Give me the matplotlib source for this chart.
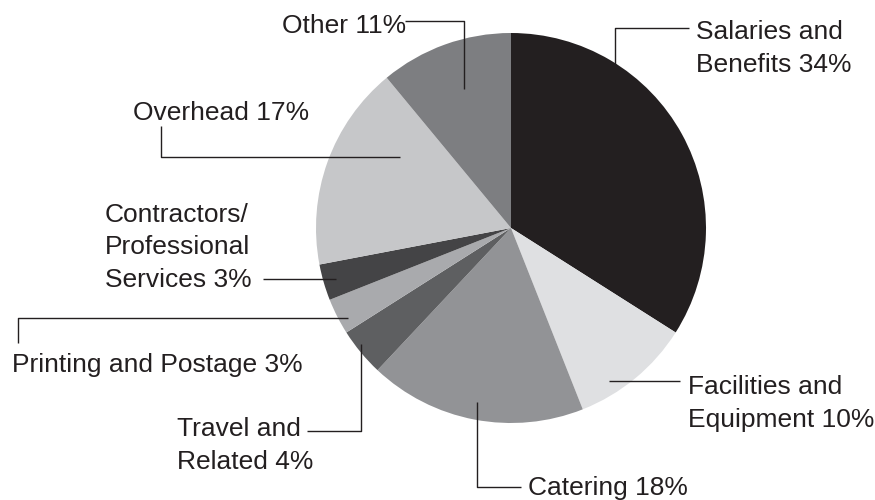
import matplotlib.pyplot as plt

# budget shares, clockwise from 12 o'clock
labels = ['Salaries and\nBenefits 34%', 'Facilities and\nEquipment 10%', 'Catering 18%',
          'Travel and\nRelated 4%', 'Printing and Postage 3%',
          'Contractors/\nProfessional\nServices 3%', 'Overhead 17%', 'Other 11%']
shares = [34, 10, 18, 4, 3, 3, 17, 11]
colors = ['#231f20', '#dfe0e2', '#929396', '#5e5f61', '#a9aaad', '#444446', '#c6c7c9', '#7d7e81']

# label anchor (x, last-line baseline) in pixels from top-left
label_pos = [(696, 72), (688, 427), (528, 495), (177, 469), (12, 372),
             (105, 287), (133, 120), (282, 33)]
# leader lines, pixels from top-left
leaders = [
    [(689, 28), (615, 28), (615, 75)],
    [(680, 381), (609, 381)],
    [(521, 487), (477, 487), (477, 402)],
    [(307, 431), (361, 431), (361, 344)],
    [(18, 343), (18, 318), (348, 318)],
    [(263, 279), (336, 279)],
    [(161, 126), (161, 157), (400, 157)],
    [(405, 21), (464, 21), (464, 89)],
]

W, H = 875, 500
ink = '#231f20'

fig = plt.figure(figsize=(W / 100, H / 100), dpi=100)
ax = fig.add_axes([0, 0, 1, 1])

ax.pie(shares, colors=colors, startangle=90, counterclock=False,
       center=(511, H - 228), radius=195, frame=True,
       wedgeprops=dict(linewidth=0))
ax.set_xlim(0, W)
ax.set_ylim(0, H)
ax.set_aspect('equal')
ax.axis('off')

for pts in leaders:
    xs = [p[0] for p in pts]
    ys = [H - p[1] for p in pts]
    ax.plot(xs, ys, color=ink, lw=1.0, solid_capstyle='butt')

for lab, (x, y) in zip(labels, label_pos):
    ax.text(x, H - y, lab, ha='left', va='baseline', fontsize=19,
            family='Liberation Sans', color=ink, linespacing=1.45)

fig.savefig('out.png', dpi=100)
